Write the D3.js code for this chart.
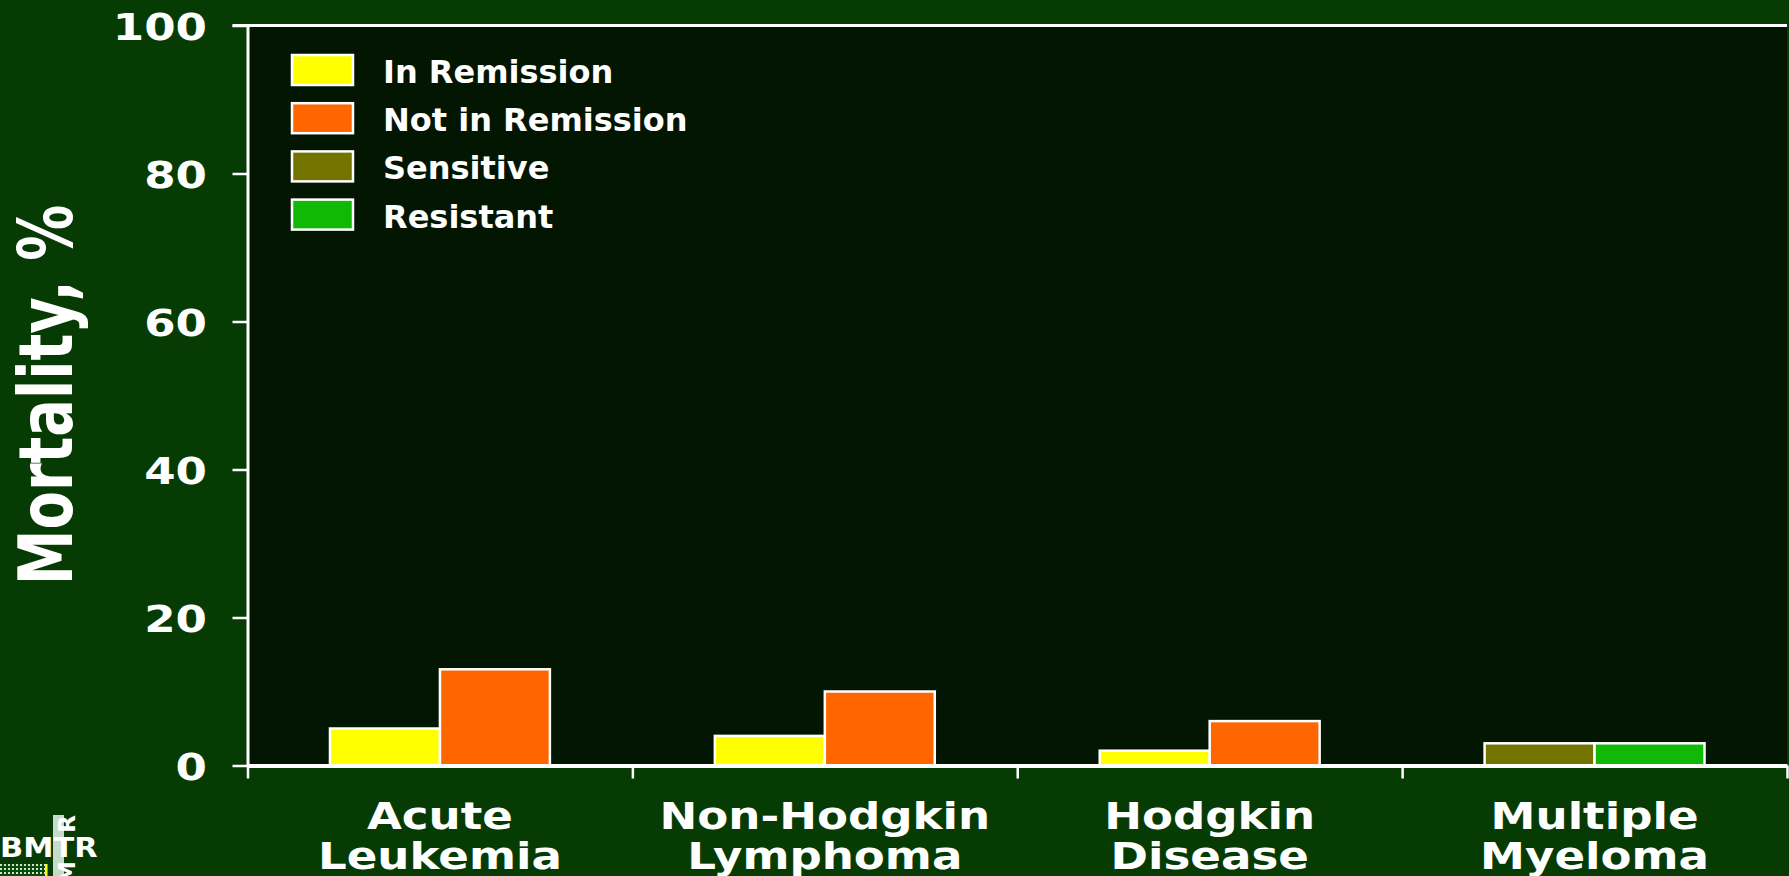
<!DOCTYPE html>
<html>
<head>
<meta charset="utf-8">
<script src="https://cdn.jsdelivr.net/npm/d3@7"></script>
<style>
  html, body { margin: 0; padding: 0; background: #063c04; overflow: hidden; }
  text { font-family: "DejaVu Sans", Verdana, sans-serif; font-weight: bold; fill: #ffffff; }
</style>
</head>
<body>
<svg id="chart" width="1789" height="876"></svg>
<script>
// ---- data ----
const categories = ["Acute Leukemia", "Non-Hodgkin Lymphoma", "Hodgkin Disease", "Multiple Myeloma"];
const seriesNames = ["In Remission", "Not in Remission", "Sensitive", "Resistant"];
const inRemission    = [5, 4, 2, null];
const notInRemission = [13, 10, 6, null];
const sensitive      = [null, null, null, 3];
const resistant      = [null, null, null, 3];
const seriesColors   = ["#ffff00", "#ff6600", "#737300", "#0fb905"];
const yTicks = [0, 20, 40, 60, 80, 100];
const yTitle = "Mortality, %";

const seriesValues = [inRemission, notInRemission, sensitive, resistant];

// ---- layout ----
const W = 1789, H = 876;
const X0 = 247.5, X1 = 1787, Y0 = 765.5, Y100 = 25.5;
const STRETCH = 1.22; // horizontal widening of axis lettering

const svg = d3.select("#chart");
svg.append("rect").attr("width", W).attr("height", H).attr("fill", "#063c04");

const x = d3.scaleBand().domain(categories).range([X0, X1]).padding(0);
const slot = d3.scaleBand().domain([0, 1]).range([0, x.bandwidth()])
  .paddingInner(0).paddingOuter(0.75);
const y = d3.scaleLinear().domain([0, 100]).range([Y0, Y100]);

// plot background
svg.append("rect")
  .attr("x", X0).attr("y", y(100))
  .attr("width", X1 - X0).attr("height", y(0) - y(100))
  .attr("fill", "#021602");

// bars: first two series share slots with the last two
const bars = [];
seriesValues.forEach((vals, si) => {
  vals.forEach((v, ci) => {
    if (v != null) bars.push({ cat: categories[ci], series: si, value: v });
  });
});
svg.append("g").selectAll("rect").data(bars).join("rect")
  .attr("x", d => x(d.cat) + slot(d.series % 2))
  .attr("y", d => y(d.value))
  .attr("width", slot.bandwidth())
  .attr("height", d => y(0) - y(d.value))
  .attr("fill", d => seriesColors[d.series])
  .attr("stroke", "#ffffff")
  .attr("stroke-width", 2.5);

// top border
svg.append("line")
  .attr("x1", X0 - 15).attr("x2", X1)
  .attr("y1", y(100)).attr("y2", y(100))
  .attr("stroke", "#ffffff").attr("stroke-width", 3);

// y axis
const yAxis = svg.append("g")
  .attr("transform", `translate(${X0},0)`)
  .call(d3.axisLeft(y).tickValues(yTicks).tickSize(15).tickSizeOuter(0));
yAxis.select(".domain").attr("stroke", "#ffffff").attr("stroke-width", 3);
yAxis.selectAll(".tick line").attr("stroke", "#ffffff").attr("stroke-width", 2.5);
yAxis.selectAll(".tick text")
  .attr("x", 0).attr("dy", "0.37em")
  .attr("text-anchor", "end")
  .attr("transform", `translate(-40.5,0) scale(${STRETCH},1)`)
  .style("font-size", "37px").attr("font-family", null).attr("font-size", null)
  .attr("fill", "#ffffff");

// x axis: ticks on band boundaries
const bounds = d3.scaleLinear().domain([0, categories.length]).range([X0, X1]);
const xAxis = svg.append("g")
  .attr("transform", `translate(0,${y(0)})`)
  .call(d3.axisBottom(bounds).tickValues(d3.range(categories.length + 1))
    .tickSize(13).tickSizeOuter(0).tickFormat(""));
xAxis.select(".domain").attr("stroke", "#ffffff").attr("stroke-width", 4);
xAxis.selectAll(".tick line").attr("stroke", "#ffffff").attr("stroke-width", 2.5);

// category labels, two lines each
const catG = svg.append("g").selectAll("g").data(categories).join("g");
catG.each(function (c) {
  const i = c.indexOf(" ");
  const lines = [c.slice(0, i), c.slice(i + 1)];
  const cx = x(c) + x.bandwidth() / 2;
  lines.forEach((ln, li) => {
    d3.select(this).append("text")
      .attr("text-anchor", "middle")
      .attr("transform", `translate(${cx},${828.5 + li * 40.5}) scale(${STRETCH},1)`)
      .style("font-size", "37px")
      .text(ln);
  });
});

// y-axis title
svg.append("text")
  .attr("text-anchor", "middle")
  .attr("transform", `translate(72,395) rotate(-90) scale(1,1.33)`)
  .style("font-size", "56px")
  .text(yTitle);

// legend
const legend = svg.append("g").selectAll("g").data(seriesNames).join("g")
  .attr("transform", (d, i) => `translate(292,${55 + i * 48.2})`);
legend.append("rect")
  .attr("width", 61).attr("height", 30)
  .attr("fill", (d, i) => seriesColors[i])
  .attr("stroke", "#ffffff").attr("stroke-width", 2.5);
legend.append("text")
  .attr("x", 91).attr("y", 28)
  .style("font-size", "32px")
  .text(d => d);

// corner mark
const logo = svg.append("g");
const defs = svg.append("defs");
const pat = defs.append("pattern").attr("id", "dots")
  .attr("width", 4).attr("height", 4).attr("patternUnits", "userSpaceOnUse");
pat.append("rect").attr("width", 4).attr("height", 4).attr("fill", "#0a4a0a");
pat.append("rect").attr("width", 2).attr("height", 2).attr("fill", "#cfe3cf");
logo.append("rect").attr("x", 0).attr("y", 864).attr("width", 45).attr("height", 12)
  .attr("fill", "url(#dots)");
logo.append("rect").attr("x", 45).attr("y", 864).attr("width", 2.5).attr("height", 12)
  .attr("fill", "#ffff00");
logo.append("rect").attr("x", 53).attr("y", 815).attr("width", 11).attr("height", 61)
  .attr("fill", "#c5dcc8");
logo.append("text")
  .attr("transform", "translate(0,857) scale(1.17,1)")
  .style("font-size", "26px")
  .text("BMTR");
logo.append("text")
  .attr("text-anchor", "end")
  .attr("transform", "translate(75,815) rotate(-90)")
  .style("font-size", "23px")
  .text("R");
logo.append("text")
  .attr("text-anchor", "start")
  .attr("transform", "translate(75,884) rotate(-90)")
  .style("font-size", "23px")
  .text("M");
</script>
</body>
</html>
